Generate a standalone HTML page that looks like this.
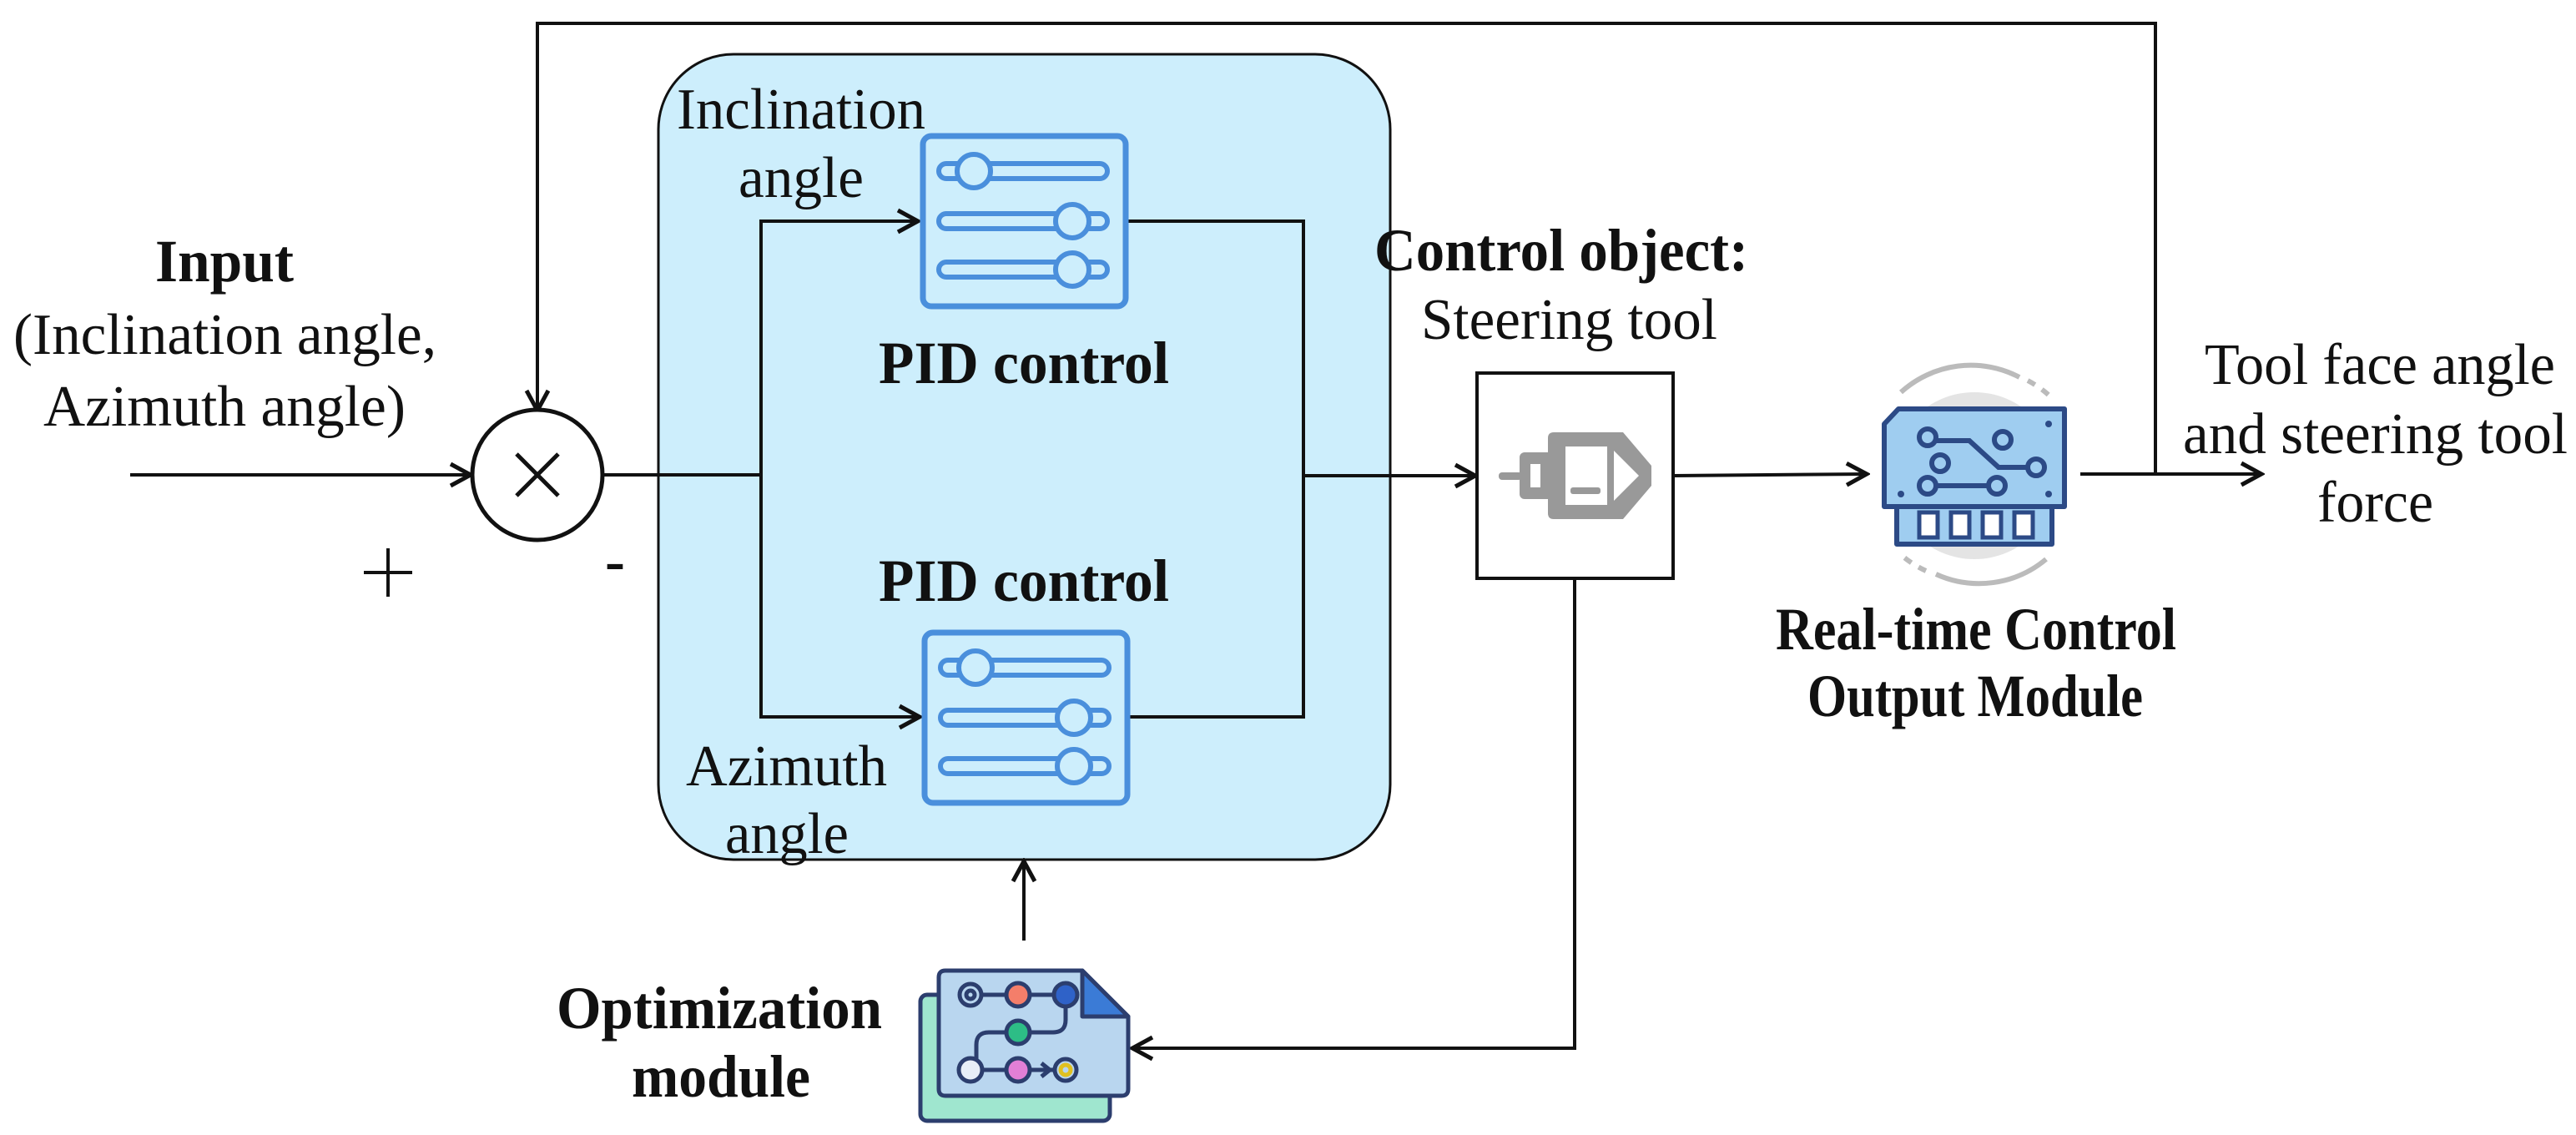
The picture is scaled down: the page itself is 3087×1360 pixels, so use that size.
<!DOCTYPE html>
<html><head><meta charset="utf-8"><style>
html,body{margin:0;padding:0;background:#fff;}
svg{display:block;}
text{font-family:"Liberation Serif",serif;font-size:70px;fill:#111;}
.b{font-weight:bold;font-size:72px;}
</style></head><body>
<svg width="3087" height="1360" viewBox="0 0 3087 1360" xmlns="http://www.w3.org/2000/svg">
<defs>
<marker id="a" markerWidth="40" markerHeight="40" refX="36" refY="20" orient="auto" markerUnits="userSpaceOnUse">
<path d="M12,7 L36,20 L12,33" fill="none" stroke="#111" stroke-width="5"/>
</marker>
<g id="pid">
<rect x="3" y="3" width="243" height="204" rx="10" fill="none" stroke="#4a8fdc" stroke-width="7"/>
<rect x="22" y="36" width="202" height="18" rx="9" fill="none" stroke="#4a8fdc" stroke-width="6"/>
<circle cx="64" cy="45" r="20" fill="#cdeefc" stroke="#4a8fdc" stroke-width="6"/>
<rect x="22" y="96" width="202" height="18" rx="9" fill="none" stroke="#4a8fdc" stroke-width="6"/>
<circle cx="182" cy="105" r="20" fill="#cdeefc" stroke="#4a8fdc" stroke-width="6"/>
<rect x="22" y="154" width="202" height="18" rx="9" fill="none" stroke="#4a8fdc" stroke-width="6"/>
<circle cx="182" cy="163" r="20" fill="#cdeefc" stroke="#4a8fdc" stroke-width="6"/>
</g>
</defs>

<rect x="789" y="65" width="877" height="965" rx="90" fill="#cdeefc" stroke="#111" stroke-width="3"/>

<polyline points="2583,568 2583,28 644,28 644,492" fill="none" stroke="#111" stroke-width="4" marker-end="url(#a)"/>
<line x1="156" y1="569" x2="564" y2="569" stroke="#111" stroke-width="4" marker-end="url(#a)"/>
<circle cx="644" cy="569" r="78" fill="#fff" stroke="#111" stroke-width="5"/>
<path d="M619,544 L669,594 M669,544 L619,594" stroke="#111" stroke-width="5"/>
<line x1="722" y1="569" x2="912" y2="569" stroke="#111" stroke-width="4"/>
<polyline points="1096,265 912,265 912,859 1096,859" fill="none" stroke="#111" stroke-width="4"/>
<line x1="912" y1="265" x2="1100" y2="265" stroke="#111" stroke-width="4" marker-end="url(#a)"/>
<line x1="912" y1="859" x2="1102" y2="859" stroke="#111" stroke-width="4" marker-end="url(#a)"/>
<polyline points="1352,265 1562,265 1562,859 1350,859" fill="none" stroke="#111" stroke-width="4"/>
<line x1="1562" y1="570" x2="1768" y2="570" stroke="#111" stroke-width="4" marker-end="url(#a)"/>

<use href="#pid" x="1103" y="160"/>
<use href="#pid" x="1105" y="755"/>

<rect x="1770" y="447" width="235" height="246" fill="#fff" stroke="#111" stroke-width="4"/>
<g fill="#999">
<rect x="1796" y="566" width="28" height="9" rx="4"/>
<rect x="1821" y="542" width="40" height="56" rx="6"/>
<path d="M1862,518 L1945,518 L1979,558 L1979,582 L1945,622 L1862,622 Q1855,622 1855,615 L1855,525 Q1855,518 1862,518 Z"/>
</g>
<rect x="1834" y="556" width="12" height="28" fill="#fff"/>
<rect x="1876" y="535" width="50" height="70" fill="#fff"/>
<path d="M1934,540 L1964,570 L1934,600 Z" fill="#fff"/>
<rect x="1882" y="584" width="36" height="8" rx="3" fill="#999"/>
<line x1="2005" y1="570" x2="2237" y2="568" stroke="#111" stroke-width="4" marker-end="url(#a)"/>

<g>
<circle cx="2366" cy="570" r="100" fill="#e4e4e4"/>
<path d="M2278,470 A125,125 0 0 1 2420,452" fill="none" stroke="#bbb" stroke-width="6"/>
<path d="M2430,456 A125,125 0 0 1 2458,476" fill="none" stroke="#bbb" stroke-width="6" stroke-dasharray="10 10"/>
<path d="M2452,670 A125,125 0 0 1 2320,688" fill="none" stroke="#bbb" stroke-width="6"/>
<path d="M2308,684 A125,125 0 0 1 2282,668" fill="none" stroke="#bbb" stroke-width="6" stroke-dasharray="10 10"/>
<path d="M2275,490 L2474,490 L2474,607 L2459,607 L2459,652 L2273,652 L2273,607 L2258,607 L2258,508 Z" fill="#9fcdf0" stroke="#2c4a86" stroke-width="6" stroke-linejoin="round"/>
<line x1="2273" y1="607" x2="2459" y2="607" stroke="#2c4a86" stroke-width="6"/>
<g fill="#fff" stroke="#2c4a86" stroke-width="5">
<rect x="2300" y="614" width="22" height="30"/><rect x="2338" y="614" width="22" height="30"/><rect x="2376" y="614" width="22" height="30"/><rect x="2414" y="614" width="22" height="30"/>
</g>
<g fill="none" stroke="#2c4a86" stroke-width="6">
<path d="M2320,528 L2360,528 L2395,560 L2430,560"/>
<path d="M2320,582 L2385,582"/>
<circle cx="2310" cy="524" r="10" fill="#9fcdf0"/><circle cx="2400" cy="527" r="10" fill="#9fcdf0"/><circle cx="2325" cy="555" r="10" fill="#9fcdf0"/><circle cx="2440" cy="560" r="10" fill="#9fcdf0"/><circle cx="2310" cy="582" r="10" fill="#9fcdf0"/><circle cx="2393" cy="582" r="10" fill="#9fcdf0"/>
</g>
<g fill="#2c4a86"><circle cx="2455" cy="508" r="4"/><circle cx="2278" cy="592" r="4"/><circle cx="2455" cy="592" r="4"/></g>
</g>
<line x1="2493" y1="568" x2="2710" y2="568" stroke="#111" stroke-width="4" marker-end="url(#a)"/>

<polyline points="1887,693 1887,1256 1357,1256" fill="none" stroke="#111" stroke-width="4" marker-end="url(#a)"/>
<line x1="1227" y1="1127" x2="1227" y2="1032" stroke="#111" stroke-width="4" marker-end="url(#a)"/>

<g stroke="#2c3e6e" stroke-width="5" stroke-linejoin="round">
<rect x="1103" y="1192" width="227" height="151" rx="8" fill="#9fe6cf"/>
<path d="M1133,1163 L1297,1163 L1352,1218 L1352,1305 Q1352,1313 1344,1313 L1133,1313 Q1125,1313 1125,1305 L1125,1171 Q1125,1163 1133,1163 Z" fill="#b9d6ef"/>
<path d="M1297,1163 L1297,1218 L1352,1218 Z" fill="#3b7bd6"/>
<g fill="none"><path d="M1163,1192 L1277,1192 L1277,1222 Q1277,1237 1262,1237 L1185,1237 Q1170,1237 1170,1252 L1170,1282 L1262,1282"/></g>
<circle cx="1163" cy="1192" r="13" fill="#b9d6ef"/><circle cx="1163" cy="1192" r="5" fill="none"/>
<circle cx="1220" cy="1192" r="14" fill="#f47e6a"/>
<circle cx="1277" cy="1192" r="14" fill="#2f62c8"/>
<circle cx="1220" cy="1237" r="14" fill="#2dbd86"/>
<circle cx="1163" cy="1282" r="14" fill="#e8eef7"/>
<circle cx="1220" cy="1282" r="14" fill="#e27fd6"/>
<path d="M1248,1274 L1258,1282 L1248,1290" fill="none"/>
<circle cx="1277" cy="1282" r="13" fill="#b9d6ef"/><circle cx="1277" cy="1282" r="6" fill="none" stroke="#e0c020"/>
</g>

<text x="186" y="337" class="b" textLength="166" lengthAdjust="spacingAndGlyphs">Input</text>
<text x="16" y="424" textLength="507" lengthAdjust="spacingAndGlyphs">(Inclination angle,</text>
<text x="52" y="510" textLength="434" lengthAdjust="spacingAndGlyphs">Azimuth angle)</text>
<path d="M436,686 L494,686 M465,657 L465,715" stroke="#111" stroke-width="4"/>
<text x="737" y="696" text-anchor="middle" class="b" font-size="76px">-</text>
<text x="811" y="154" textLength="298" lengthAdjust="spacingAndGlyphs">Inclination</text>
<text x="885" y="236" textLength="150" lengthAdjust="spacingAndGlyphs">angle</text>
<text x="1053" y="459" class="b" textLength="348" lengthAdjust="spacingAndGlyphs">PID control</text>
<text x="1053" y="720" class="b" textLength="348" lengthAdjust="spacingAndGlyphs">PID control</text>
<text x="822" y="941" textLength="241" lengthAdjust="spacingAndGlyphs">Azimuth</text>
<text x="869" y="1022" textLength="148" lengthAdjust="spacingAndGlyphs">angle</text>
<text x="1647" y="324" class="b" textLength="448" lengthAdjust="spacingAndGlyphs">Control object:</text>
<text x="1703" y="406" textLength="355" lengthAdjust="spacingAndGlyphs">Steering tool</text>
<text x="2642" y="460" textLength="420" lengthAdjust="spacingAndGlyphs">Tool face angle</text>
<text x="2616" y="543" textLength="461" lengthAdjust="spacingAndGlyphs">and steering tool</text>
<text x="2777" y="625" textLength="139" lengthAdjust="spacingAndGlyphs">force</text>
<text x="2128" y="778" class="b" textLength="480" lengthAdjust="spacingAndGlyphs">Real-time Control</text>
<text x="2166" y="858" class="b" textLength="402" lengthAdjust="spacingAndGlyphs">Output Module</text>
<text x="667" y="1232" class="b" textLength="390" lengthAdjust="spacingAndGlyphs">Optimization</text>
<text x="757" y="1314" class="b" textLength="214" lengthAdjust="spacingAndGlyphs">module</text>
</svg>
</body></html>
